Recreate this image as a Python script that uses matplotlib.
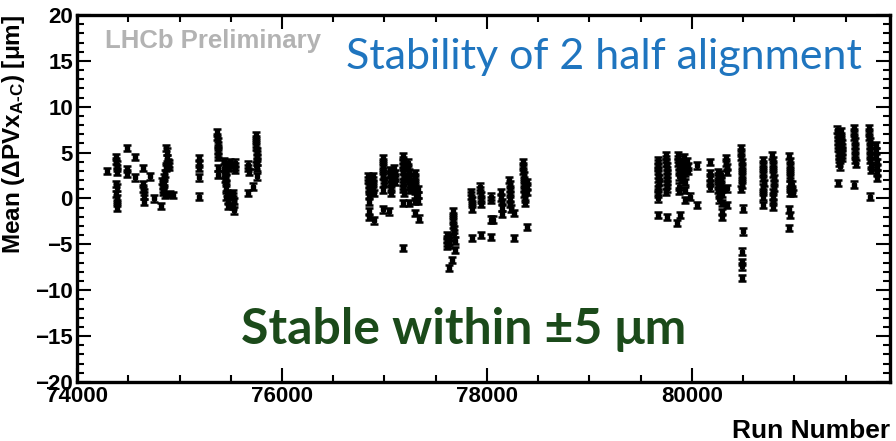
import numpy as np
from matplotlib import pyplot as plt
from matplotlib.ticker import MultipleLocator

plt.rcParams["font.family"] = ["Liberation Sans", "DejaVu Sans"]
plt.rcParams["font.weight"] = "bold"
plt.rcParams["axes.labelweight"] = "bold"
plt.rcParams["mathtext.fontset"] = "custom"
plt.rcParams["mathtext.rm"] = "Liberation Sans:bold"
plt.rcParams["mathtext.it"] = "Liberation Sans:bold"
plt.rcParams["mathtext.bf"] = "Liberation Sans:bold"
plt.rcParams["mathtext.default"] = "rm"

# mean of Delta PVx (A - C) per run, grouped by data-taking period
run_a = [74290, 74380, 74383, 74386, 74389, 74392, 74384, 74388, 74382, 74386, 74390, 74387,
         74485, 74488, 74492, 74566, 74570, 74648, 74644, 74648, 74652, 74656, 74650,
         74712, 74754, 74820, 74832, 74836, 74840, 74838, 74850, 74853, 74848, 74856,
         74862, 74866, 74870, 74872, 74876, 74880, 74885, 74890, 74898, 74902, 74905, 74933]
mean_a = [3.0, 4.5, 4.1, 3.7, 3.3, 2.9, 1.6, 1.2, 0.5, 0.0, -0.5, -1.0,
          5.5, 3.2, 2.7, 4.5, 2.3, 3.3, 1.6, 1.1, 0.7, 0.3, -0.4,
          2.4, 0.0, -0.8, 1.9, 1.5, 1.1, 0.7, 2.3, 1.8, 0.9, 0.4,
          2.7, 3.5, 3.3, 5.5, 5.1, 4.4, 3.9, 3.6, 3.5, 3.8, 0.5, 0.4]

run_b = [75188, 75190, 75192, 75190, 75189,
         75368, 75370, 75372, 75374, 75376, 75378, 75380, 75372, 75376,
         75436, 75440, 75444, 75440, 75446, 75452, 75455, 75458, 75456, 75460, 75454,
         75468, 75472, 75470, 75474, 75488, 75492, 75490,
         75522, 75525, 75528, 75524, 75527, 75538, 75542, 75540,
         75666, 75670, 75674, 75670, 75720,
         75744, 75746, 75748, 75750, 75752, 75754, 75756, 75752, 75750, 75754, 75756]
mean_b = [4.4, 3.8, 3.3, 2.3, 0.2,
          7.2, 6.7, 6.2, 5.8, 5.3, 4.9, 4.5, 3.3, 2.6,
          4.1, 3.6, 3.1, 2.6, 2.1, 2.9, 2.3, 1.7, 1.2, 0.6, 0.2,
          3.7, 3.3, -0.3, -0.8, 4.0, 3.5, 0.5,
          0.6, 0.2, -0.3, -0.8, -1.3, 3.9, 3.5, 3.1,
          3.7, 3.3, 2.9, 0.6, 1.3,
          6.9, 6.5, 6.0, 5.6, 5.2, 4.8, 4.4, 4.0, 3.6, 3.3, 2.4]

run_c = [76840, 76842, 76844, 76846, 76848, 76850, 76846, 76848, 76852,
         76886, 76888, 76890, 76892, 76894, 76893,
         76982, 76984, 76986, 76988, 76990, 76992, 76994, 76990, 76988,
         77047, 77056, 77058, 77060, 77062, 77064, 77066,
         77096, 77098, 77100, 77102,
         77176, 77178, 77180, 77182, 77184, 77186, 77188, 77184, 77182, 77180, 77186, 77184, 77183,
         77232, 77234, 77236, 77240, 77242, 77244, 77246, 77240,
         77294, 77296, 77298, 77300, 77302, 77304, 77300, 77302,
         77326, 77328, 77330, 77334]
mean_c = [2.4, 2.0, 1.6, 1.2, 0.8, 0.4, -0.4, -1.4, -2.0,
          2.4, 2.0, 1.6, 1.1, 0.6, -2.4,
          4.4, 4.0, 3.5, 3.0, 2.5, 2.0, 1.7, 0.9, -1.2,
          -1.4, 3.1, 2.6, 2.1, 1.6, 1.1, 0.6,
          3.3, 2.8, 2.3, 1.8,
          4.6, 4.2, 3.8, 3.4, 3.0, 2.6, 2.2, 1.8, 1.4, 1.0, 0.6, -0.5, -5.4,
          3.9, 3.4, 2.9, 2.4, 1.9, 1.4, 0.9, -0.5,
          2.8, 2.3, 1.8, 1.3, 0.8, 0.3, -0.3, -1.6,
          1.0, 0.4, -0.3, -2.2]

run_d = [77606, 77608, 77610, 77612, 77626, 77628, 77630, 77632, 77655,
         77666, 77668, 77670, 77672, 77674, 77676, 77688, 77686,
         77846, 77848, 77850, 77852, 77854, 77851,
         77934, 77936, 77938, 77940, 77942, 77938,
         78036, 78040, 78042, 78040, 78062,
         78138, 78140, 78143, 78146, 78148,
         78218, 78220, 78222, 78224, 78226, 78228, 78230, 78263, 78262,
         78352, 78354, 78356, 78358, 78360, 78362, 78364, 78366, 78368, 78370,
         78390, 78392, 78394, 78393]
mean_d = [-4.0, -4.4, -4.8, -5.2, -4.2, -4.7, -5.0, -7.6, -6.7,
          -1.4, -1.9, -2.4, -2.9, -3.4, -3.8, -5.6, -4.6,
          0.7, 0.3, -0.2, -0.6, -1.1, -4.3,
          1.3, 0.9, 0.4, -0.1, -0.6, -4.0,
          0.2, -0.2, -2.3, -4.2, -2.3,
          0.7, 0.1, -0.4, -1.0, -1.7,
          2.0, 1.5, 1.0, 0.5, 0.0, -0.6, -1.1, -4.3, -1.6,
          4.0, 3.5, 3.0, 2.5, 2.0, 1.5, 1.0, 0.5, 0.0, -0.5,
          1.8, 1.3, 0.7, -3.1]

run_e = [79664, 79666, 79668, 79670, 79672, 79674, 79676, 79672, 79670, 79668, 79666, 79671,
         79746, 79748, 79750, 79752, 79754, 79756, 79758, 79756, 79754, 79752, 79750, 79753,
         79864, 79866, 79868, 79870, 79872, 79874, 79876, 79872, 79850, 79883,
         79896, 79898, 79900, 79902, 79904, 79932,
         79926, 79928, 79930, 79932, 79934, 79936, 79980,
         79956, 79958, 79960,
         80046, 80046,
         80172, 80174, 80176, 80178, 80180,
         80250, 80252, 80254, 80256, 80258, 80260, 80262,
         80284, 80286, 80288, 80290, 80292, 80294, 80296, 80298,
         80334, 80336, 80338, 80340, 80344, 80346,
         80478, 80480, 80482, 80484, 80486, 80488, 80490, 80486, 80484, 80482,
         80496, 80494, 80490, 80488, 80490, 80492]
mean_e = [4.2, 3.8, 3.4, 3.0, 2.6, 2.2, 1.8, 1.4, 1.0, 0.5, 0.0, -1.8,
          4.7, 4.3, 3.9, 3.5, 3.1, 2.7, 2.3, 1.9, 1.5, 1.1, 0.7, -2.0,
          4.7, 4.3, 3.9, 3.4, 2.9, 2.4, 1.3, 0.8, -2.7, -1.8,
          4.0, 3.6, 3.1, 2.6, 2.1, -0.2,
          4.5, 3.9, 3.3, 2.8, 1.8, 0.9, 0.2,
          4.1, 3.5, 3.0,
          3.6, -0.7,
          4.0, 2.8, 2.3, 1.7, 1.2,
          2.9, 2.4, 1.9, 1.4, 0.9, 0.4, -0.1,
          2.6, 2.0, 1.5, 1.0, 0.5, -0.5, -1.5, -2.0,
          4.4, 3.9, 3.4, 2.9, 1.1, -0.7,
          5.5, 5.0, 4.5, 4.0, 3.5, 3.0, 2.5, 2.0, 1.5, 1.0,
          -1.1, -3.6, -5.8, -6.9, -7.4, -8.7]

run_f = [80690, 80692, 80694, 80696, 80698, 80700, 80698, 80696, 80694, 80697,
         80786, 80788, 80790, 80792, 80794, 80796, 80798, 80796, 80794, 80792, 80790, 80793,
         80950, 80952, 80954, 80956, 80958, 80960, 80952, 80954, 80956, 80950, 80954, 80948,
         80978, 80980, 80982]
mean_f = [4.2, 3.7, 3.2, 2.7, 2.2, 1.7, 1.2, 0.7, 0.2, -0.7,
          4.7, 4.2, 3.7, 3.2, 2.7, 2.2, 1.7, 1.2, 0.7, 0.2, -0.4, -0.9,
          4.6, 4.1, 3.6, 3.1, 2.6, 2.2, 1.5, 1.0, 0.6, -1.2, -1.8, -3.2,
          1.5, 1.0, 0.6]

run_g = [81420, 81422, 81424, 81426, 81428, 81430, 81432, 81434, 81436, 81438, 81440, 81428,
         81454, 81456, 81458, 81460, 81462, 81464, 81466, 81468,
         81582, 81584, 81586, 81588, 81590, 81592, 81594, 81596, 81598, 81584,
         81728, 81730, 81732, 81734, 81736, 81738, 81740, 81742, 81744, 81746, 81734,
         81796, 81798, 81800, 81802, 81804, 81806, 81808]
mean_g = [7.5, 7.1, 6.7, 6.3, 5.9, 5.5, 5.1, 4.7, 4.3, 3.9, 3.5, 1.7,
          7.3, 6.8, 6.4, 6.0, 5.6, 5.2, 4.8, 4.4,
          7.7, 7.2, 6.7, 6.2, 5.7, 5.2, 4.7, 4.2, 3.8, 1.5,
          7.7, 7.2, 6.7, 6.2, 5.7, 5.2, 4.7, 4.2, 3.6, 3.1, 0.2,
          5.8, 5.2, 4.6, 4.0, 3.4, 2.8, 2.2]

mean_err = 0.35

runs = np.array(run_a + run_b + run_c + run_d + run_e + run_f + run_g)
means = np.array(mean_a + mean_b + mean_c + mean_d + mean_e + mean_f + mean_g)

fig = plt.figure(figsize=(8.96, 4.41), dpi=100)
ax = fig.add_axes([0.086, 0.134, 0.907, 0.832])

ax.errorbar(runs, means, yerr=mean_err, fmt="s", ms=2.4, color="black",
            ecolor="black", elinewidth=1.8, capsize=2.6, capthick=1.8)

ax.set_xlim(74000, 81930)
ax.set_ylim(-20, 20)
ax.xaxis.set_major_locator(MultipleLocator(2000))
ax.xaxis.set_minor_locator(MultipleLocator(500))
ax.yaxis.set_major_locator(MultipleLocator(5))
ax.yaxis.set_minor_locator(MultipleLocator(1))
ax.tick_params(which="both", direction="in", top=True, right=True, width=1.5)
ax.tick_params(which="major", length=10, labelsize=16)
ax.tick_params(axis="y", which="major", pad=3)
ax.tick_params(axis="x", which="major", pad=3)
ax.tick_params(which="minor", length=5)
for s in ax.spines.values():
    s.set_linewidth(2.4)

ax.set_ylabel("Mean (\u0394PVx$_{\\mathrm{A\u2010C}}$) [\u03bcm]", fontsize=17.5,
              fontweight="bold", loc="top")
ax.yaxis.set_label_coords(-0.062, 1.0)
ax.set_xlabel("Run Number", fontsize=19, fontweight="bold", loc="right")
ax.xaxis.set_label_coords(1.0, -0.1)

ax.text(0.035, 0.929, "LHCb Preliminary", transform=ax.transAxes, fontsize=18.5,
        color="#b3b3b3", fontweight="bold", va="center")
ax.text(0.966, 0.886, "Stability of 2 half alignment", transform=ax.transAxes,
        fontsize=31, color="#1f75bf", family="Lato", fontweight="normal",
        ha="right", va="center")
ax.text(0.476, 0.142, "Stable within \u00b15 \u03bcm", transform=ax.transAxes,
        fontsize=36, color="#1b4a1a", family="Lato", fontweight="bold",
        ha="center", va="center")

fig.savefig("out.png", dpi=100)
